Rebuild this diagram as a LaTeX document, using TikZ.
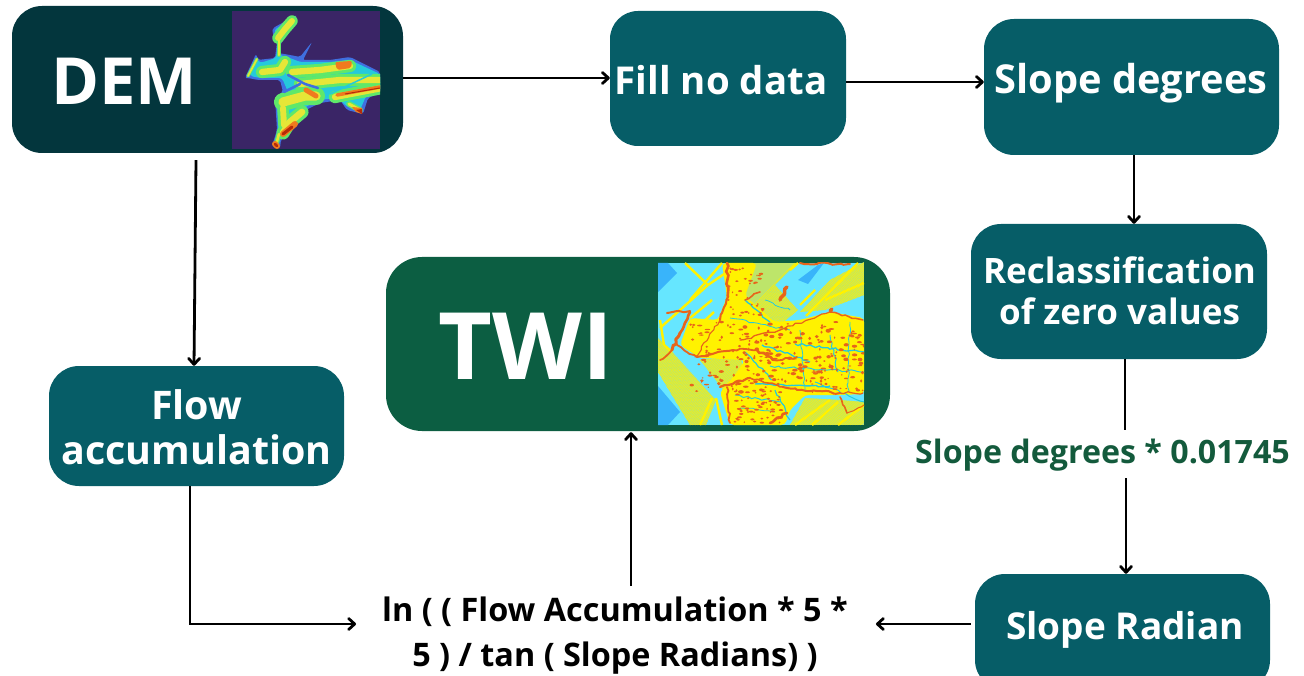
\documentclass[tikz,border=0pt]{standalone}
\usepackage{fontspec}
\setmainfont{Open Sans}[BoldFont={Open Sans Bold}]
\usetikzlibrary{arrows.meta,decorations.pathmorphing}
\definecolor{demc}{HTML}{03363D}
\definecolor{tealc}{HTML}{065D67}
\definecolor{twic}{HTML}{0C5E42}
\definecolor{labc}{HTML}{135A3C}
\definecolor{mpurple}{HTML}{3A2566}
\definecolor{mblue}{HTML}{3F6FE0}
\definecolor{mcyan}{HTML}{25C9DC}
\definecolor{mgreen}{HTML}{5FE86A}
\definecolor{myellow}{HTML}{E6E637}
\definecolor{morange}{HTML}{F07A1E}
\definecolor{mred}{HTML}{B52A08}
\definecolor{tcyan}{HTML}{66E6FF}
\definecolor{tblue}{HTML}{39B4FA}
\definecolor{tyellow}{HTML}{FFF200}
\definecolor{tolive}{HTML}{BDE56A}
\definecolor{torange}{HTML}{E8641A}
\tikzset{
  x=1pt,y=-1pt,
  boxbase/.style={inner sep=0pt,align=center,text=white},
  boxtext/.style={inner sep=0pt,align=center,text=white,font=\bfseries\fontsize{#1}{#1}\selectfont},
  conn/.style={draw=black,line width=2.8pt,-{Straight Barb[length=6pt,width=11pt,line width=2.8pt,round]}},
  plainconn/.style={draw=black,line width=2.8pt},
  formula/.style={inner sep=0pt,align=center,text=black,font=\bfseries\fontsize{32.4}{45}\selectfont},
  rough/.style={decorate,decoration={random steps,segment length=4pt,amplitude=1.3pt}},
}
\newcommand{\demridges}[2]{%
  \draw[#1,line width=#2*14pt,line cap=round,line join=round] (278,38)--(285,29)--(292,21);
  \draw[#1,line width=#2*5pt,line cap=round] (279,38)--(279,55);
  \draw[#1,line width=#2*4pt,line cap=round] (248,76)--(257,59);
  \draw[#1,line width=#2*15pt,line cap=round,line join=round] (262,72)--(280,70)--(285,62);
  \draw[#1,line width=#2*15pt,line cap=round,line join=round] (292,72)--(320,70)--(350,66);
  \draw[#1,line width=#2*15pt,line cap=round,line join=round] (300,84)--(340,80)--(382,80);
  \draw[#1,line width=#2*15pt,line cap=round,line join=round] (335,97)--(382,88);
  \draw[#1,line width=#2*22pt,line cap=round,line join=round] (283,102)--(305,96)--(316,96);
  \draw[#1,line width=#2*16pt,line cap=round,line join=round] (302,112)--(290,122)--(283,133);
  \draw[#1,line width=#2*14pt,line cap=round,line join=round] (283,108)--(284,125);
  \draw[#1,line width=#2*6pt,line cap=round] (279,134)--(276,145);
  \draw[#1,line width=#2*7pt,line cap=round] (349,104)--(360,110);
}
\begin{document}
\begin{tikzpicture}
\useasboundingbox (0,0) rectangle (1304,676);
\clip (0,0) rectangle (1304,676);

% boxes
\node[boxbase,fill=demc,minimum width=391pt,minimum height=147pt,rounded corners=30pt] (dem) at (207.5,79.5) {};
\node[boxtext=65] (demt) at (124,81) {DEM};
\node[boxbase,fill=tealc,minimum width=236pt,minimum height=135pt,rounded corners=28pt] (fill) at (728,78.5) {};
\node[boxtext=38.4] (fillt) at (721,80.5) {Fill no data};
\node[boxbase,fill=tealc,minimum width=295pt,minimum height=136pt,rounded corners=30pt] (slope) at (1131.5,87) {};
\node[boxtext=39.8] (slopet) at (1131,83) {Slope degrees};
\node[boxbase,fill=tealc,minimum width=296pt,minimum height=135pt,rounded corners=30pt] (recl) at (1119,291.5) {};
\node[inner sep=0pt,align=center,text=white,font=\bfseries\fontsize{35}{41}\selectfont] (reclt) at (1119.5,291) {Reclassification\\of zero values};
\node[boxbase,fill=tealc,minimum width=295pt,minimum height=120pt,rounded corners=30pt] (flow) at (196.5,426) {};
\node[inner sep=0pt,align=center,text=white,font=\bfseries\fontsize{39.4}{45}\selectfont] (flowt) at (196.5,427) {Flow\\accumulation};
\node[boxbase,fill=twic,minimum width=504pt,minimum height=174pt,rounded corners=36pt] (twi) at (638,344) {};
\node[boxtext=93] (twit) at (526,346) {TWI};
\node[boxbase,fill=tealc,minimum width=295pt,minimum height=116pt,rounded corners=30pt] (radian) at (1122.5,632) {};
\node[boxtext=37] (radt) at (1125,630) {Slope Radian};
\node[inner sep=0pt,text=labc,font=\bfseries\fontsize{32.2}{35}\selectfont,minimum height=48pt] (lab) at (1102.5,455) {Slope degrees * 0.01745};
\node[formula] (form) at (615,636) {ln ( ( Flow Accumulation * 5 *\\5 ) / tan ( Slope Radians) )};

% DEM map
\begin{scope}
\fill[mpurple] (232,11) rectangle (380,149);
\clip (232,11) rectangle (380,149);
\fill[mblue,rounded corners=2pt] (273,28)--(297,15)--(290,31)--(281,43)--(278,53)--(290,55)--(300,57)--(312,42)--(303,60)--(330,60)--(350,57)--(380,72)--(380,93)--(368,98)--(363,114)--(347,110)--(340,100)--(320,103)--(306,110)--(293,123)--(281,140)--(280,148)--(272,146)--(277,130)--(275,97)--(283,92)--(280,80)--(258,80)--(248,78)--(245,78)--(256,54)--(258,60)--(275,58)--(277,42)--(272,32)--cycle;
\fill[mcyan,rounded corners=3pt] (274,30)--(295,17)--(288,31)--(279,43)--(277,54)--(290,58)--(300,62)--(330,62)--(350,60)--(380,74)--(380,92)--(366,96)--(360,110)--(346,106)--(338,98)--(318,100)--(304,108)--(291,121)--(279,138)--(277,146)--(274,144)--(278,130)--(277,100)--(288,92)--(282,78)--(260,78)--(250,76)--(256,58)--(260,63)--(276,58)--(278,42)--cycle;
\demridges{mgreen}{0.82}
\demridges{myellow}{0.42}
\draw[mblue,line width=2.5pt,line cap=round] (288,75)--(305,84)--(318,88);
\draw[mblue,line width=2.5pt,line cap=round] (300,84)--(284,92);
\draw[mcyan,line width=1.5pt] (330,94)--(372,74);
\fill[morange,rounded corners=2pt] (335,62)--(352,61)--(351,68)--(337,70)--cycle;
\draw[morange,line width=3.5pt,line cap=round] (337,95)--(380,87);
\draw[mred,line width=1pt] (345,94)--(380,88);
\draw[morange,line width=5pt,line cap=round] (306,90)--(316,96);
\draw[morange,line width=6pt,line cap=round] (283,134)--(295,124);
\draw[mred,line width=3pt,line cap=round] (283,134)--(292,127);
\draw[morange,line width=6pt,line cap=round] (275,144)--(277,146);
\draw[mred,line width=2.5pt,line cap=round] (275,144)--(277,146);
\fill[morange] (352,107)--(362,108)--(362,114)--(356,112)--cycle;
\fill[mred] (356,110)--(362,109)--(362,114)--cycle;
\end{scope}

% TWI map
\begin{scope}
\fill[tcyan] (658,263) rectangle (864,425);
\clip (658,263) rectangle (864,425);
\fill[tblue] (658,263)--(668,263)--(677,273)--(658,292)--cycle;
\fill[tblue] (658,386)--(680,412)--(668,425)--(658,425)--cycle;
\fill[tblue] (798,280)--(818,265)--(824,263)--(808,284)--cycle;
% olive striped fields
\begin{scope}
\clip (740,263)--(797,263)--(775,285)--(798,310)--(780,325)--(745,298)--cycle;
\fill[tolive] (730,263) rectangle (800,330);
\foreach \k in {0,2.5,...,90}{\draw[tyellow,line width=.5pt] (730+\k,330)--(795+\k,263);}
\end{scope}
\begin{scope}
\clip (800,312)--(830,280)--(864,262)--(864,295)--(825,310)--cycle;
\fill[tolive] (800,262) rectangle (864,315);
\foreach \k in {0,2.5,...,90}{\draw[tyellow,line width=.5pt] (775+\k,315)--(830+\k,262);}
\end{scope}
\begin{scope}
\clip (790,425)--(805,398)--(840,400)--(864,402)--(864,425)--cycle;
\fill[tolive] (790,395) rectangle (864,425);
\foreach \k in {0,2.5,...,90}{\draw[tyellow,line width=.5pt] (770+\k,425)--(800+\k,395);}
\end{scope}
\begin{scope}
\clip (658,338)--(672,352)--(716,400)--(706,425)--(690,425)--(658,372)--cycle;
\fill[tolive] (658,335) rectangle (720,425);
\foreach \k in {-60,-57.5,...,40}{\draw[tyellow,line width=.5pt] (658+\k,340)--(738+\k,425);}
\end{scope}
\begin{scope}
\clip (700,360)--(740,356)--(745,375)--(725,392)--cycle;
\fill[tolive] (700,355) rectangle (745,395);
\foreach \k in {-40,-37.5,...,40}{\draw[tyellow,line width=.5pt] (700+\k,350)--(750+\k,400);}
\end{scope}
% yellow bands
\foreach \a/\b/\c/\d in {
 685/263/708/285, 708/285/660/328, 708/285/727/272, 712/300/690/318, 714/312/700/325,
 660/320/664/345, 664/345/672/352, 716/398/722/425, 700/425/712/398, 806/316/858/263,
 825/300/864/283, 800/305/815/290, 795/425/830/400, 812/425/838/402, 838/425/864/405,
 722/263/690/300, 798/263/790/270}
 {\draw[tyellow,line width=2.4pt] (\a,\b)--(\c,\d);}
% main yellow body
\fill[tyellow,rounded corners=4pt] (690,318)--(718,320)--(727,297)--(722,263)--(757,263)--(745,296)--(775,322)--(800,320)--(830,312)--(864,318)--(864,394)--(840,395)--(805,395)--(790,410)--(785,425)--(730,425)--(720,392)--(735,375)--(745,360)--(700,358)--(680,345)--cycle;
% cyan channels
\foreach \a/\b/\c/\d/\e in {
 762/345/810/362/1.3, 770/366/864/372/1.0, 755/384/830/386/1.4, 795/344/864/352/1.3, 745/300/770/322/1.3,
 745/352/772/380/1.2, 815/382/864/402/1, 775/390/790/420/1.2, 830/335/838/372/1, 735/395/780/402/1,
 730/318/790/330/.8, 765/300/790/310/.8, 740/408/775/412/.8, 800/330/805/390/.8, 850/322/848/392/.8}
 {\draw[mcyan,line width=\e pt,rough] (\a,\b)--(\c,\d);}
\pgfmathsetseed{4711}
% orange specks
\foreach \i in {1,...,260}{
  \pgfmathsetmacro{\px}{690+rnd*174}
  \pgfmathsetmacro{\py}{322+rnd*70}
  \pgfmathsetmacro{\rx}{.7+rnd*2.2}
  \pgfmathsetmacro{\ry}{.6+rnd*1.2}
  \fill[torange] (\px,\py) ellipse [x radius=\rx pt,y radius=\ry pt];
}
\foreach \i in {1,...,60}{
  \pgfmathsetmacro{\px}{732+rnd*52}
  \pgfmathsetmacro{\py}{390+rnd*34}
  \pgfmathsetmacro{\rx}{.7+rnd*1.8}
  \fill[torange] (\px,\py) ellipse [x radius=\rx pt,y radius=1pt];
}
\foreach \i in {1,...,40}{
  \pgfmathsetmacro{\px}{728+rnd*35}
  \pgfmathsetmacro{\py}{268+rnd*50}
  \pgfmathsetmacro{\rx}{.7+rnd*1.8}
  \fill[torange] (\px,\py) ellipse [x radius=\rx pt,y radius=1pt];
}
% orange channels
\foreach \a/\b/\c/\d/\e in {
 660/360/672/350/1.8, 672/350/680/333/3, 680/333/690/312/2.6, 667/313/690/311/2,
 677/345/697/357/1.8, 697/357/733/350/2, 733/350/757/350/1.8, 757/350/773/360/2.6, 773/360/797/357/1.8,
 727/263/728/297/2.6, 728/297/720/320/2, 740/340/780/330/1.3, 780/330/830/312/1.2, 830/312/863/320/1.5,
 720/387/750/378/2.2, 750/378/783/387/1.6, 783/387/797/390/2, 797/390/840/393/2, 840/393/863/393/1.2,
 727/387/730/423/1.8, 787/413/770/423/2.6, 787/287/780/300/3.5, 840/397/847/413/1.6, 847/413/864/405/1,
 745/300/760/292/1.6, 695/357/720/320/1.1, 800/263/850/264/2, 830/311/832/309/3.5}
 {\draw[torange,line width=\e pt,line cap=round,rough] (\a,\b)--(\c,\d);}
\end{scope}

% connectors
\draw[conn] ([yshift=1.5pt]dem.east) -- ([yshift=.5pt]fill.west);
\draw[conn] ([yshift=-3.5pt]fill.east) -- ([yshift=5pt]slope.west);
\draw[conn] ([xshift=2.5pt]slope.south) -- ([xshift=15pt]recl.north);
\draw[conn] ([xshift=-11.5pt,yshift=-7pt]dem.south) -- ([xshift=-2.5pt]flow.north);
\draw[plainconn] ([xshift=6pt]recl.south) -- ([xshift=22.5pt,yshift=1pt]lab.north);
\draw[conn] ([xshift=23.5pt,yshift=1pt]lab.south) -- ([xshift=3.5pt]radian.north);
\draw[conn] ([xshift=-6.5pt]flow.south) |- ([xshift=-26pt,yshift=12pt]form.west);
\draw[conn] ([xshift=16pt,yshift=11pt]form.north) -- ([xshift=-7pt,yshift=-1pt]twi.south);
\draw[conn] ([xshift=-4pt,yshift=8pt]radian.west) -- ([xshift=28pt,yshift=12pt]form.east);
\end{tikzpicture}
\end{document}
